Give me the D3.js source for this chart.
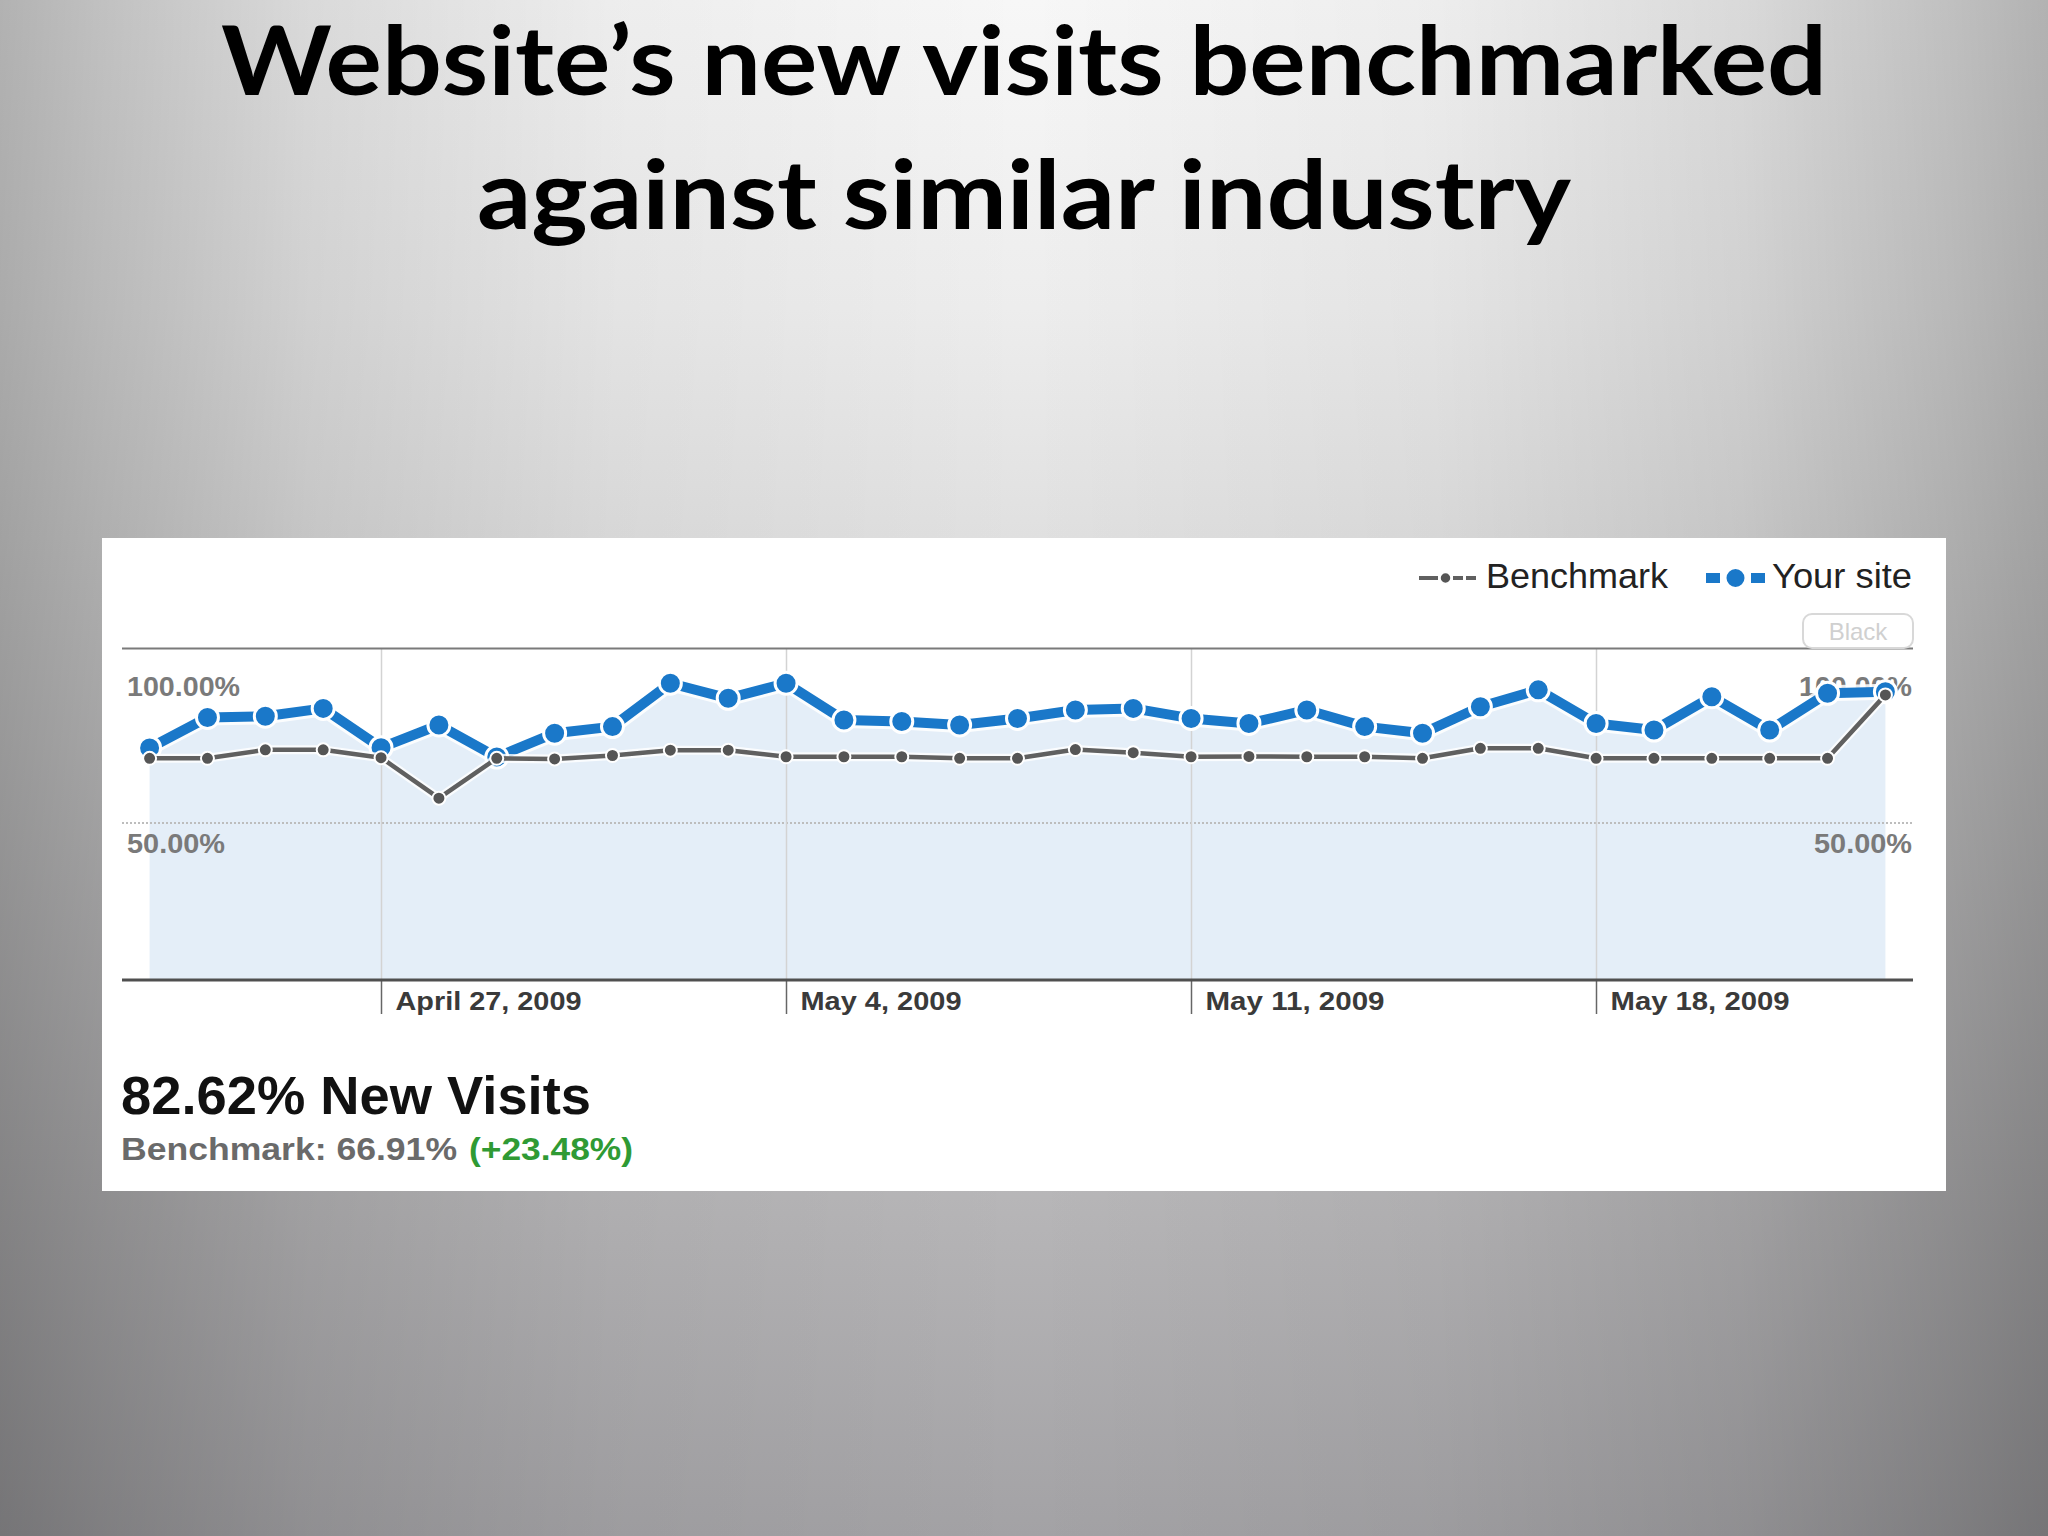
<!DOCTYPE html>
<html><head><meta charset="utf-8">
<script src="https://cdn.jsdelivr.net/npm/d3@7"></script>
<style>html,body{margin:0;padding:0;overflow:hidden;background:#999}svg{display:block}</style>
</head><body>
<svg id="c" width="2048" height="1536"></svg>
<script>
// ---- data ----
const dates = ["2009-04-23","2009-04-24","2009-04-25","2009-04-26","2009-04-27","2009-04-28","2009-04-29","2009-04-30",
  "2009-05-01","2009-05-02","2009-05-03","2009-05-04","2009-05-05","2009-05-06","2009-05-07","2009-05-08","2009-05-09",
  "2009-05-10","2009-05-11","2009-05-12","2009-05-13","2009-05-14","2009-05-15","2009-05-16","2009-05-17","2009-05-18",
  "2009-05-19","2009-05-20","2009-05-21","2009-05-22","2009-05-23"];
const yourSite = [73.9, 83.6, 84.0, 86.5, 74.0, 81.2, 71.0, 78.6, 80.7, 94.5, 89.7, 94.5, 82.8, 82.3, 81.2, 83.3,
  86.0, 86.5, 83.3, 81.7, 86.0, 80.7, 78.6, 87.0, 92.4, 81.7, 79.6, 90.2, 79.6, 91.3, 91.8];
const benchmark = [70.6, 70.6, 73.3, 73.3, 70.8, 57.9, 70.6, 70.4, 71.5, 73.2, 73.2, 71.1, 71.1, 71.1, 70.6, 70.6,
  73.4, 72.4, 71.1, 71.2, 71.1, 71.1, 70.6, 73.8, 73.8, 70.6, 70.6, 70.6, 70.6, 70.6, 90.8];
const xTickDates = ["2009-04-27","2009-05-04","2009-05-11","2009-05-18"];
const xTickLabels = ["April 27, 2009","May 4, 2009","May 11, 2009","May 18, 2009"];
const yTickValues = [100, 50];
const yTickLabels = ["100.00%","50.00%"];
const seriesNames = ["Benchmark","Your site"];
const titleLines = ["Website\u2019s new visits benchmarked","against similar industry"];
const headline = "82.62% New Visits";
const benchLabel = "Benchmark: 66.91%";
const benchDelta = "(+23.48%)";
const buttonLabel = "Black";

// ---- setup ----
const parse = d3.timeParse("%Y-%m-%d");
const svg = d3.select("#c");
const defs = svg.append("defs");
const sans = "'Liberation Sans', Arial, sans-serif";

const gV = defs.append("linearGradient").attr("id","bgV").attr("x1",0).attr("y1",0).attr("x2",0).attr("y2",1);
[[0,"#f7f7f7"],[0.2,"#ededed"],[0.35,"#e0e0e0"],[0.8,"#b5b4b6"],[1,"#a3a2a5"]]
  .forEach(([o,c])=>gV.append("stop").attr("offset",o).attr("stop-color",c));
const gH = defs.append("linearGradient").attr("id","bgH").attr("x1",0).attr("y1",0).attr("x2",1).attr("y2",0);
[[0,0.28],[0.05,0.22],[0.15,0.12],[0.3,0.04],[0.5,0],[0.7,0.04],[0.85,0.12],[0.95,0.22],[1,0.28]]
  .forEach(([o,a])=>gH.append("stop").attr("offset",o).attr("stop-color","#000").attr("stop-opacity",a));

svg.append("rect").attr("width",2048).attr("height",1536).attr("fill","url(#bgV)");
svg.append("rect").attr("width",2048).attr("height",1536).attr("fill","url(#bgH)");

// title
const titleBase = [95, 229];
const titleLen = [1606, 1094];
svg.selectAll("text.title").data(titleLines).join("text").attr("class","title")
  .attr("x",1024).attr("y",(d,i)=>titleBase[i]).attr("text-anchor","middle")
  .attr("font-family","Lato, 'Open Sans', sans-serif").attr("font-weight",700).attr("font-size",95)
  .attr("fill","#000").attr("textLength",(d,i)=>titleLen[i]).attr("lengthAdjust","spacingAndGlyphs")
  .text(d=>d);

// panel
svg.append("rect").attr("x",102).attr("y",538).attr("width",1844).attr("height",653).attr("fill","#fff");

const x = d3.scaleTime().domain([parse(dates[0]), parse(dates[dates.length-1])]).range([149.6, 1885.4]);
const y = d3.scaleLinear().domain([0,100]).range([980, 666]);
const plotLeft = 122, plotRight = 1913, plotTop = 648.5;

const data = dates.map((d,i)=>({date:parse(d), site:yourSite[i], bench:benchmark[i]}));

// area under your site
svg.append("path").datum(data)
  .attr("d", d3.area().x(d=>x(d.date)).y0(y(0)).y1(d=>y(d.site)))
  .attr("fill","#e4eef8");

// dotted 50% line
svg.append("line").attr("x1",plotLeft).attr("x2",plotRight).attr("y1",y(50)).attr("y2",y(50))
  .attr("stroke","#bdbdbd").attr("stroke-width",2).attr("stroke-dasharray","2,2");

// vertical grid + ticks
const xLabelLen = [186, 161, 179, 179];
const tg = svg.append("g");
xTickDates.forEach((t,i)=>{
  const xx = Math.round(x(parse(t)))+0.5;
  tg.append("line").attr("x1",xx).attr("x2",xx).attr("y1",plotTop).attr("y2",y(0))
    .attr("stroke","#d3d3d3").attr("stroke-width",1.5);
  tg.append("line").attr("x1",xx).attr("x2",xx).attr("y1",y(0)).attr("y2",1014)
    .attr("stroke","#666").attr("stroke-width",1.5);
  tg.append("text").attr("x",xx+14).attr("y",1010)
    .attr("font-family",sans).attr("font-weight",700).attr("font-size",26)
    .attr("fill","#3a3a3a").attr("textLength",xLabelLen[i]).attr("lengthAdjust","spacingAndGlyphs")
    .text(xTickLabels[i]);
});

// top line & axis line
svg.append("line").attr("x1",plotLeft).attr("x2",plotRight).attr("y1",plotTop).attr("y2",plotTop)
  .attr("stroke","#7a7a7a").attr("stroke-width",2);
svg.append("line").attr("x1",plotLeft).attr("x2",plotRight).attr("y1",y(0)).attr("y2",y(0))
  .attr("stroke","#4f4f4f").attr("stroke-width",3);

// y labels (both sides)
const yLabelLen = [113, 98];
yTickValues.forEach((v,i)=>{
  [["start",127],["end",1912]].forEach(([anch,xx])=>{
    svg.append("text").attr("x",xx).attr("y",y(v)+30).attr("text-anchor",anch)
      .attr("font-family",sans).attr("font-weight",700).attr("font-size",27)
      .attr("fill","#7a7a7a").attr("textLength",yLabelLen[i]).attr("lengthAdjust","spacingAndGlyphs")
      .text(yTickLabels[i]);
  });
});

// "Black" button
svg.append("rect").attr("x",1803).attr("y",614).attr("width",110).attr("height",34).attr("rx",9)
  .attr("fill","#fff").attr("stroke","#d8d8d8").attr("stroke-width",2);
svg.append("text").attr("x",1858).attr("y",640).attr("text-anchor","middle")
  .attr("font-family",sans).attr("font-size",24).attr("fill","#d0d0d0").text(buttonLabel);

// series
const blue = "#1a78c9", gray = "#606060";
const lineSite = d3.line().x(d=>x(d.date)).y(d=>y(d.site));
const lineBench = d3.line().x(d=>x(d.date)).y(d=>y(d.bench));

svg.append("path").datum(data).attr("d",lineSite).attr("fill","none")
  .attr("stroke","#fff").attr("stroke-opacity",0.85).attr("stroke-width",16).attr("stroke-linejoin","round");
svg.append("path").datum(data).attr("d",lineSite).attr("fill","none")
  .attr("stroke",blue).attr("stroke-width",10).attr("stroke-linejoin","round");
svg.append("g").selectAll("circle").data(data).join("circle")
  .attr("cx",d=>x(d.date)).attr("cy",d=>y(d.site)).attr("r",11)
  .attr("fill",blue).attr("stroke","#fff").attr("stroke-width",3);

svg.append("path").datum(data).attr("d",lineBench).attr("fill","none")
  .attr("stroke","#fff").attr("stroke-opacity",0.8).attr("stroke-width",9).attr("stroke-linejoin","round");
svg.append("path").datum(data).attr("d",lineBench).attr("fill","none")
  .attr("stroke",gray).attr("stroke-width",4.5).attr("stroke-linejoin","round");
svg.append("g").selectAll("circle").data(data).join("circle")
  .attr("cx",d=>x(d.date)).attr("cy",d=>y(d.bench)).attr("r",6.5)
  .attr("fill","#555").attr("stroke","#fff").attr("stroke-width",2);

// legend
const lg = svg.append("g");
const ly = 578;
lg.append("line").attr("x1",1419).attr("x2",1438).attr("y1",ly).attr("y2",ly).attr("stroke",gray).attr("stroke-width",4);
lg.append("line").attr("x1",1453).attr("x2",1478).attr("y1",ly).attr("y2",ly).attr("stroke",gray).attr("stroke-width",4).attr("stroke-dasharray","10,3");
lg.append("circle").attr("cx",1445.5).attr("cy",ly).attr("r",5.5).attr("fill","#555").attr("stroke","#fff").attr("stroke-width",1.5);
lg.append("text").attr("x",1486).attr("y",588).attr("font-family",sans)
  .attr("font-size",35).attr("fill","#222").attr("textLength",182).attr("lengthAdjust","spacingAndGlyphs").text(seriesNames[0]);
lg.append("rect").attr("x",1706).attr("y",ly-5).attr("width",14).attr("height",10).attr("fill",blue);
lg.append("rect").attr("x",1751).attr("y",ly-5).attr("width",14).attr("height",10).attr("fill",blue);
lg.append("circle").attr("cx",1735.5).attr("cy",ly).attr("r",10).attr("fill",blue).attr("stroke","#fff").attr("stroke-width",2);
lg.append("text").attr("x",1772).attr("y",588).attr("font-family",sans)
  .attr("font-size",35).attr("fill","#222").attr("textLength",140).attr("lengthAdjust","spacingAndGlyphs").text(seriesNames[1]);

// summary
svg.append("text").attr("x",121).attr("y",1114).attr("font-family",sans)
  .attr("font-weight",700).attr("font-size",54).attr("fill","#111")
  .attr("textLength",470).attr("lengthAdjust","spacingAndGlyphs").text(headline);
svg.append("text").attr("x",121).attr("y",1160).attr("font-family",sans)
  .attr("font-weight",700).attr("font-size",32).attr("fill","#6a6a6a")
  .attr("textLength",336).attr("lengthAdjust","spacingAndGlyphs").text(benchLabel);
svg.append("text").attr("x",469).attr("y",1160).attr("font-family",sans)
  .attr("font-weight",700).attr("font-size",32).attr("fill","#2f9a34")
  .attr("textLength",164).attr("lengthAdjust","spacingAndGlyphs").text(benchDelta);
</script>
</body></html>
